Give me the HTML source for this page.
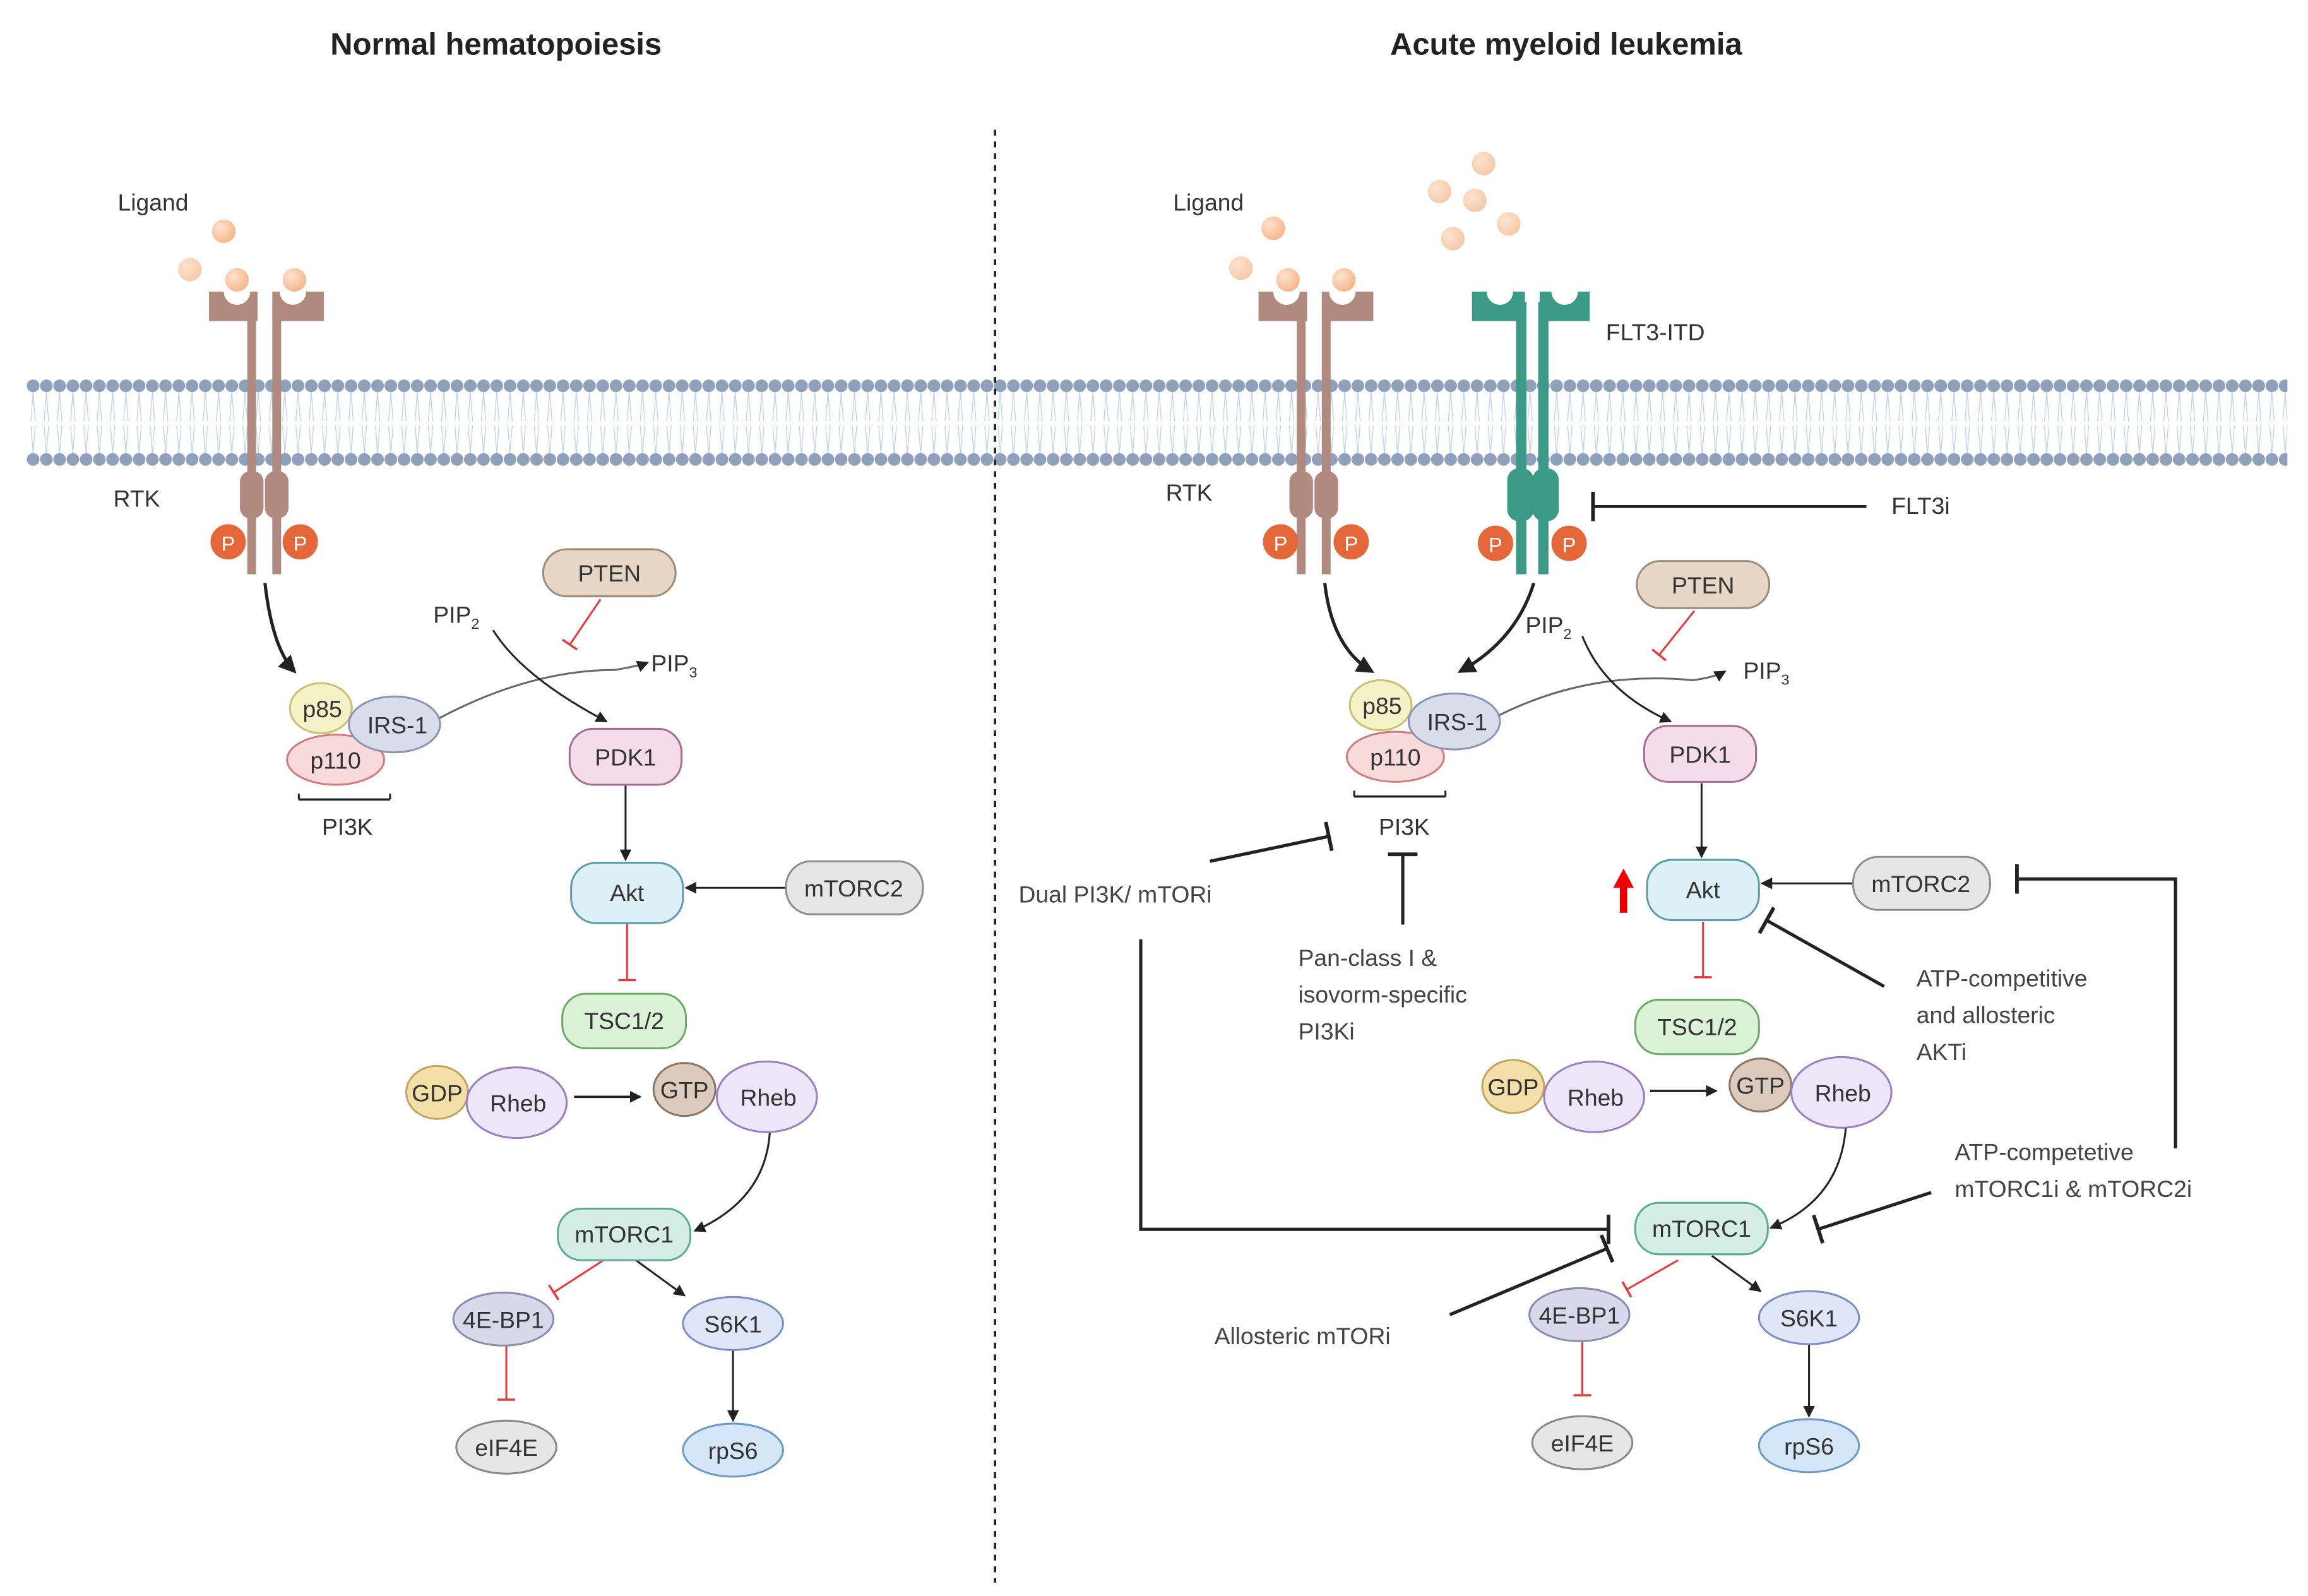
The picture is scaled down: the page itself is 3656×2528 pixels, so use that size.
<!DOCTYPE html>
<html><head><meta charset="utf-8"><style>html,body{margin:0;padding:0;background:#fff}svg{display:block}</style></head>
<body>
<svg xmlns="http://www.w3.org/2000/svg" width="3656" height="2528" viewBox="0 0 1568 1084" font-family="Liberation Sans, sans-serif">
<defs>
<pattern id="mem" x="18" y="0" width="9" height="1084" patternUnits="userSpaceOnUse">
<g stroke="#c4d3e6" stroke-width="0.6" fill="none">
<path d="M4.5 266 L3 286 M4.5 266 L6 286 M4.5 308 L3 289 M4.5 308 L6 289"/>
</g>
<circle cx="4.5" cy="262" r="4.3" fill="#8fa0ba"/>
<circle cx="4.5" cy="312" r="4.3" fill="#8fa0ba"/>
</pattern>
<marker id="ar" markerWidth="8" markerHeight="8" refX="7" refY="4" orient="auto" markerUnits="userSpaceOnUse"><path d="M0 0 L8 4 L0 8 z" fill="#222"/></marker>
<marker id="arb" markerWidth="12" markerHeight="12" refX="10" refY="6" orient="auto" markerUnits="userSpaceOnUse"><path d="M0 0 L12 6 L0 12 z" fill="#222"/></marker>
<marker id="tb" markerWidth="4" markerHeight="20" refX="2" refY="10" orient="auto" markerUnits="userSpaceOnUse"><rect x="0.5" y="0" width="2.5" height="20" fill="#222"/></marker>
<marker id="tr" markerWidth="3" markerHeight="12" refX="1.5" refY="6" orient="auto" markerUnits="userSpaceOnUse"><rect x="0.5" y="0" width="1.5" height="12" fill="#e83a3a"/></marker>
<radialGradient id="lig" cx="0.35" cy="0.35" r="0.7"><stop offset="0" stop-color="#fde3cf"/><stop offset="1" stop-color="#f6b587"/></radialGradient>
<radialGradient id="lig2" cx="0.35" cy="0.35" r="0.7"><stop offset="0" stop-color="#fde3cf"/><stop offset="1" stop-color="#f5c9a7"/></radialGradient>
</defs>

<rect x="18" y="250" width="1536" height="75" fill="url(#mem)"/>

<text x="337" y="37" font-size="21" font-weight="bold" text-anchor="middle" fill="#222">Normal hematopoiesis</text>
<text x="1064" y="37" font-size="21" font-weight="bold" text-anchor="middle" fill="#222">Acute myeloid leukemia</text>
<line x1="676" y1="88" x2="676" y2="1075" stroke="#222" stroke-width="1.6" stroke-dasharray="4,4"/>

<g font-size="16" fill="#333">
<!-- LEFT RTK -->
<text x="80" y="143">Ligand</text>
<circle cx="152" cy="157" r="8" fill="url(#lig)"/>
<circle cx="129" cy="183" r="8" fill="url(#lig2)"/>
<g fill="#b08a7e">
<path d="M142 198 H152 A9 9 0 0 0 170 198 H175 V218 H142 Z"/>
<path d="M185 198 H190 A9 9 0 0 0 208 198 H220 V218 H185 Z"/>
<rect x="168" y="205" width="6" height="185"/><rect x="185" y="205" width="6" height="185"/>
<rect x="163" y="320" width="16" height="32" rx="7"/><rect x="180" y="320" width="16" height="32" rx="7"/>
</g>
<circle cx="161" cy="190" r="8" fill="url(#lig)"/>
<circle cx="200" cy="190" r="8" fill="url(#lig)"/>
<text x="77" y="344">RTK</text>
<circle cx="155" cy="368" r="12" fill="#e4673a"/><text x="155" y="374" font-size="14" fill="#fff" text-anchor="middle">P</text>
<circle cx="204" cy="368" r="12" fill="#e4673a"/><text x="204" y="374" font-size="14" fill="#fff" text-anchor="middle">P</text>

<!-- RIGHT RTK -->
<text x="797" y="143">Ligand</text>
<circle cx="865" cy="155" r="8" fill="url(#lig)"/>
<circle cx="843" cy="182" r="8" fill="url(#lig2)"/>
<g fill="#b08a7e">
<path d="M855 198 H865 A9 9 0 0 0 883 198 H888 V218 H855 Z"/>
<path d="M898 198 H903 A9 9 0 0 0 921 198 H933 V218 H898 Z"/>
<rect x="881" y="205" width="6" height="185"/><rect x="898" y="205" width="6" height="185"/>
<rect x="876" y="320" width="16" height="32" rx="7"/><rect x="893" y="320" width="16" height="32" rx="7"/>
</g>
<circle cx="875" cy="190" r="8" fill="url(#lig)"/>
<circle cx="913" cy="190" r="8" fill="url(#lig)"/>
<text x="792" y="340">RTK</text>
<circle cx="870" cy="368" r="12" fill="#e4673a"/><text x="870" y="374" font-size="14" fill="#fff" text-anchor="middle">P</text>
<circle cx="918" cy="368" r="12" fill="#e4673a"/><text x="918" y="374" font-size="14" fill="#fff" text-anchor="middle">P</text>

<!-- FLT3 -->
<circle cx="1008" cy="111" r="8" fill="url(#lig2)"/>
<circle cx="978" cy="130" r="8" fill="url(#lig2)"/>
<circle cx="1002" cy="136" r="8" fill="url(#lig2)"/>
<circle cx="1025" cy="152" r="8" fill="url(#lig2)"/>
<circle cx="987" cy="162" r="8" fill="url(#lig2)"/>
<g fill="#3a9a86">
<path d="M1000 198 H1010 A9 9 0 0 0 1028 198 H1036 V218 H1000 Z"/>
<path d="M1046 198 H1054 A9 9 0 0 0 1072 198 H1080 V218 H1046 Z"/>
<rect x="1030" y="205" width="7" height="185"/><rect x="1045" y="205" width="7" height="185"/>
<rect x="1024" y="318" width="18" height="36" rx="8"/><rect x="1041" y="318" width="18" height="36" rx="8"/>
</g>
<text x="1091" y="231">FLT3-ITD</text>
<circle cx="1016" cy="369" r="12" fill="#e4673a"/><text x="1016" y="375" font-size="14" fill="#fff" text-anchor="middle">P</text>
<circle cx="1066" cy="369" r="12" fill="#e4673a"/><text x="1066" y="375" font-size="14" fill="#fff" text-anchor="middle">P</text>
<line x1="1268" y1="344" x2="1082" y2="344" stroke="#222" stroke-width="2" marker-end="url(#tb)"/>
<text x="1285" y="349">FLT3i</text>
</g>

<!-- Left pathway -->
<g fill="none" stroke="#222" stroke-width="1.3">
<path d="M180 396 Q185 440 200 456" stroke-width="2.2" marker-end="url(#arb)"/>
<path d="M298 488 Q360 455 418 455 Q435 452 440 450" stroke="#666" marker-end="url(#ar)"/>
<path d="M335 428 Q355 460 412 490" marker-end="url(#ar)"/>
<line x1="425" y1="533" x2="425" y2="584" marker-end="url(#ar)"/>
<line x1="534" y1="603" x2="466" y2="603" marker-end="url(#ar)"/>
<line x1="390" y1="745" x2="435" y2="745" stroke-width="1.6" marker-end="url(#ar)"/>
<path d="M523 769 Q520 815 472 836" marker-end="url(#ar)"/>
<line x1="432" y1="856" x2="465" y2="880" marker-end="url(#ar)"/>
<line x1="498" y1="917" x2="498" y2="965" marker-end="url(#ar)"/>
<line x1="203" y1="543" x2="265" y2="543" stroke-width="1.5"/>
<line x1="203" y1="539" x2="203" y2="543"/><line x1="265" y1="539" x2="265" y2="543"/>
</g>
<g fill="none" stroke="#e83a3a" stroke-width="1.3">
<line x1="408" y1="407" x2="387" y2="438" marker-end="url(#tr)"/>
<line x1="426" y1="627" x2="426" y2="666" marker-end="url(#tr)"/>
<line x1="410" y1="856" x2="376" y2="878" marker-end="url(#tr)"/>
<line x1="344" y1="914" x2="344" y2="951" marker-end="url(#tr)"/>
</g>

<!-- Right pathway -->
<g fill="none" stroke="#222" stroke-width="1.3">
<path d="M900 396 Q905 440 932 456" stroke-width="2.2" marker-end="url(#arb)"/>
<path d="M1042 396 Q1030 435 992 456" stroke-width="2.2" marker-end="url(#arb)"/>
<path d="M1018 486 Q1080 455 1150 462 Q1165 460 1172 456" stroke="#666" marker-end="url(#ar)"/>
<path d="M1075 432 Q1090 470 1135 490" marker-end="url(#ar)"/>
<line x1="1156" y1="532" x2="1156" y2="582" marker-end="url(#ar)"/>
<line x1="1262" y1="600" x2="1197" y2="600" marker-end="url(#ar)"/>
<line x1="1121" y1="741" x2="1166" y2="741" stroke-width="1.6" marker-end="url(#ar)"/>
<path d="M1254 766 Q1250 815 1203 834" marker-end="url(#ar)"/>
<line x1="1163" y1="853" x2="1196" y2="877" marker-end="url(#ar)"/>
<line x1="1229" y1="913" x2="1229" y2="962" marker-end="url(#ar)"/>
<line x1="920" y1="541" x2="982" y2="541" stroke-width="1.5"/>
<line x1="920" y1="537" x2="920" y2="541"/><line x1="982" y1="537" x2="982" y2="541"/>
</g>
<g fill="none" stroke="#e83a3a" stroke-width="1.3">
<line x1="1151" y1="415" x2="1127" y2="445" marker-end="url(#tr)"/>
<line x1="1157" y1="626" x2="1157" y2="664" marker-end="url(#tr)"/>
<line x1="1140" y1="856" x2="1105" y2="876" marker-end="url(#tr)"/>
<line x1="1075" y1="911" x2="1075" y2="948" marker-end="url(#tr)"/>
</g>
<!-- inhibitor lines -->
<g fill="none" stroke="#222" stroke-width="2.2">
<line x1="822" y1="585" x2="903" y2="568" marker-end="url(#tb)"/>
<line x1="953" y1="628" x2="953" y2="580" marker-end="url(#tb)"/>
<polyline points="775,638 775,835 1093,835" marker-end="url(#tb)"/>
<line x1="1280" y1="670" x2="1200" y2="625" marker-end="url(#tb)"/>
<polyline points="1478,780 1478,597 1370,597" marker-end="url(#tb)"/>
<line x1="1312" y1="810" x2="1235" y2="835" marker-end="url(#tb)"/>
<line x1="985" y1="893" x2="1092" y2="848" marker-end="url(#tb)"/>
</g>
<path d="M1103 590 L1110 603 L1105.5 603 L1105.5 620 L1100.5 620 L1100.5 603 L1096 603 Z" fill="#e00"/>

<!-- Nodes -->
<g font-size="16" fill="#333" text-anchor="middle" stroke-width="1.3">
<!-- left -->
<ellipse cx="218" cy="481" rx="21" ry="17" fill="#f6f2c8" stroke="#c9c070"/>
<ellipse cx="228" cy="516" rx="33" ry="17" fill="#f8dada" stroke="#d57a7a"/>
<ellipse cx="268" cy="492" rx="31" ry="19" fill="#d9dcea" stroke="#8c94b3"/>
<text x="219" y="487" stroke="none">p85</text><text x="228" y="522" stroke="none">p110</text><text x="270" y="498" stroke="none">IRS-1</text>
<text x="236" y="567" stroke="none">PI3K</text>
<text x="310" y="423" stroke="none">PIP<tspan font-size="10" dy="4">2</tspan></text>
<text x="458" y="456" stroke="none">PIP<tspan font-size="10" dy="4">3</tspan></text>
<rect x="369" y="373" width="90" height="32" rx="16" fill="#e6d6c6" stroke="#9e8a78"/><text x="414" y="395" stroke="none">PTEN</text>
<rect x="387" y="495" width="76" height="38" rx="16" fill="#f5dcea" stroke="#a86a90"/><text x="425" y="520" stroke="none">PDK1</text>
<rect x="388" y="586" width="76" height="41" rx="17" fill="#dcf0f6" stroke="#5a9bb0"/><text x="426" y="612" stroke="none">Akt</text>
<rect x="534" y="585" width="93" height="36" rx="17" fill="#e6e6e6" stroke="#8c8c8c"/><text x="580" y="609" stroke="none">mTORC2</text>
<rect x="382" y="675" width="84" height="37" rx="16" fill="#dcf2d6" stroke="#6aa865"/><text x="424" y="699" stroke="none">TSC1/2</text>
<ellipse cx="297" cy="742" rx="21" ry="18" fill="#f3dfa8" stroke="#c4a45a"/><text x="297" y="748" stroke="none">GDP</text>
<ellipse cx="351" cy="749" rx="34" ry="24" fill="#ede6f8" stroke="#9a7ec4"/><text x="352" y="755" stroke="none">Rheb</text>
<ellipse cx="465" cy="740" rx="21" ry="18" fill="#dccabc" stroke="#8c7462"/><text x="465" y="746" stroke="none">GTP</text>
<ellipse cx="521" cy="745" rx="34" ry="24" fill="#ede6f8" stroke="#9a7ec4"/><text x="522" y="751" stroke="none">Rheb</text>
<rect x="379" y="821" width="90" height="35" rx="16" fill="#d4eee6" stroke="#5aab93"/><text x="424" y="844" stroke="none">mTORC1</text>
<ellipse cx="342" cy="896" rx="34" ry="18" fill="#d8d8ea" stroke="#8a8cb0"/><text x="342" y="902" stroke="none">4E-BP1</text>
<ellipse cx="498" cy="899" rx="34" ry="18" fill="#dfe6f8" stroke="#7a8ec8"/><text x="498" y="905" stroke="none">S6K1</text>
<ellipse cx="344" cy="983" rx="34" ry="18" fill="#e6e6e6" stroke="#888"/><text x="344" y="989" stroke="none">eIF4E</text>
<ellipse cx="498" cy="985" rx="34" ry="18" fill="#d4e6f8" stroke="#6a9ac8"/><text x="498" y="991" stroke="none">rpS6</text>

<!-- right -->
<ellipse cx="938" cy="479" rx="21" ry="17" fill="#f6f2c8" stroke="#c9c070"/>
<ellipse cx="948" cy="514" rx="33" ry="17" fill="#f8dada" stroke="#d57a7a"/>
<ellipse cx="988" cy="490" rx="31" ry="19" fill="#d9dcea" stroke="#8c94b3"/>
<text x="939" y="485" stroke="none">p85</text><text x="948" y="520" stroke="none">p110</text><text x="990" y="496" stroke="none">IRS-1</text>
<text x="954" y="567" stroke="none">PI3K</text>
<text x="1052" y="430" stroke="none">PIP<tspan font-size="10" dy="4">2</tspan></text>
<text x="1200" y="461" stroke="none">PIP<tspan font-size="10" dy="4">3</tspan></text>
<rect x="1112" y="381" width="90" height="32" rx="16" fill="#e6d6c6" stroke="#9e8a78"/><text x="1157" y="403" stroke="none">PTEN</text>
<rect x="1117" y="493" width="76" height="38" rx="16" fill="#f5dcea" stroke="#a86a90"/><text x="1155" y="518" stroke="none">PDK1</text>
<rect x="1119" y="584" width="76" height="41" rx="17" fill="#dcf0f6" stroke="#5a9bb0"/><text x="1157" y="610" stroke="none">Akt</text>
<rect x="1259" y="582" width="93" height="36" rx="17" fill="#e6e6e6" stroke="#8c8c8c"/><text x="1305" y="606" stroke="none">mTORC2</text>
<rect x="1111" y="679" width="84" height="37" rx="16" fill="#dcf2d6" stroke="#6aa865"/><text x="1153" y="703" stroke="none">TSC1/2</text>
<ellipse cx="1028" cy="738" rx="21" ry="18" fill="#f3dfa8" stroke="#c4a45a"/><text x="1028" y="744" stroke="none">GDP</text>
<ellipse cx="1083" cy="745" rx="34" ry="24" fill="#ede6f8" stroke="#9a7ec4"/><text x="1084" y="751" stroke="none">Rheb</text>
<ellipse cx="1196" cy="737" rx="21" ry="18" fill="#dccabc" stroke="#8c7462"/><text x="1196" y="743" stroke="none">GTP</text>
<ellipse cx="1251" cy="742" rx="34" ry="24" fill="#ede6f8" stroke="#9a7ec4"/><text x="1252" y="748" stroke="none">Rheb</text>
<rect x="1111" y="817" width="90" height="35" rx="16" fill="#d4eee6" stroke="#5aab93"/><text x="1156" y="840" stroke="none">mTORC1</text>
<ellipse cx="1073" cy="893" rx="34" ry="18" fill="#d8d8ea" stroke="#8a8cb0"/><text x="1073" y="899" stroke="none">4E-BP1</text>
<ellipse cx="1229" cy="895" rx="34" ry="18" fill="#dfe6f8" stroke="#7a8ec8"/><text x="1229" y="901" stroke="none">S6K1</text>
<ellipse cx="1075" cy="980" rx="34" ry="18" fill="#e6e6e6" stroke="#888"/><text x="1075" y="986" stroke="none">eIF4E</text>
<ellipse cx="1229" cy="982" rx="34" ry="18" fill="#d4e6f8" stroke="#6a9ac8"/><text x="1229" y="988" stroke="none">rpS6</text>
</g>

<g font-size="16" fill="#444">
<text x="692" y="613">Dual PI3K/ mTORi</text>
<text x="882" y="656">Pan-class I &amp;</text>
<text x="882" y="681">isovorm-specific</text>
<text x="882" y="706">PI3Ki</text>
<text x="1302" y="670">ATP-competitive</text>
<text x="1302" y="695">and allosteric</text>
<text x="1302" y="720">AKTi</text>
<text x="1328" y="788">ATP-competetive</text>
<text x="1328" y="813">mTORC1i &amp; mTORC2i</text>
<text x="825" y="913">Allosteric mTORi</text>
</g>
</svg>
</body></html>
